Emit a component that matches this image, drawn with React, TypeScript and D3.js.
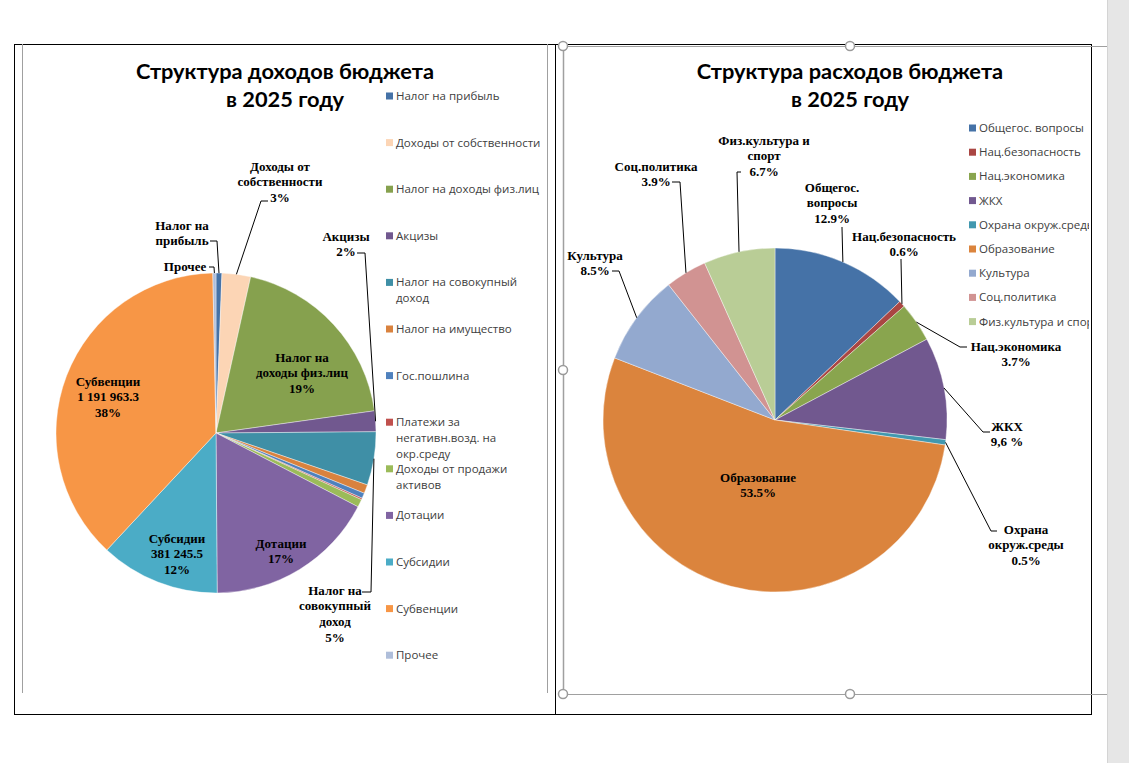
import React from 'react';
import * as d3 from 'd3';

// ---------- DATA ----------
const incomeCategories = [
  'Налог на прибыль',
  'Доходы от собственности',
  'Налог на доходы физ.лиц',
  'Акцизы',
  'Налог на совокупный доход',
  'Налог на имущество',
  'Гос.пошлина',
  'Платежи за негативн.возд. на окр.среду',
  'Доходы от продажи активов',
  'Дотации',
  'Субсидии',
  'Субвенции',
  'Прочее',
];
const incomeValues = [18800, 91000, 610000, 66000, 170000, 28000, 17000, 5000, 25000, 545000, 381245.5, 1191963.3, 10000];
const incomeColors = ['#4572A7', '#FCD5B5', '#86A14E', '#71588F', '#3F8FA6', '#D9823E', '#4F81BD', '#C0504D', '#9BBB59', '#8064A2', '#4BACC6', '#F79646', '#AFBEDA'];
const incomeLegend = [
  ['Налог на прибыль'],
  ['Доходы от собственности'],
  ['Налог на доходы физ.лиц'],
  ['Акцизы'],
  ['Налог на совокупный', 'доход'],
  ['Налог на имущество'],
  ['Гос.пошлина'],
  ['Платежи за', 'негативн.возд. на', 'окр.среду'],
  ['Доходы от продажи', 'активов'],
  ['Дотации'],
  ['Субсидии'],
  ['Субвенции'],
  ['Прочее'],
];

const expenseCategories = [
  'Общегос. вопросы',
  'Нац.безопасность',
  'Нац.экономика',
  'ЖКХ',
  'Охрана окруж.среды',
  'Образование',
  'Культура',
  'Соц.политика',
  'Физ.культура и спорт',
];
// shares in percent
const expenseValues = [12.9, 0.6, 3.7, 9.6, 0.5, 53.5, 8.5, 3.9, 6.7];
const expenseColors = ['#4572A7', '#AA4643', '#89A54E', '#71588F', '#4198AF', '#DB843D', '#93A9CF', '#D19392', '#B9CD96'];

// ---------- LAYOUT CONFIG ----------
type LabelCfg = {
  idx: number;
  lines: string[];
  showPct?: boolean;
  showValue?: boolean;
  pctText?: string;
  x: number;
  y: number; // centre of first line
  lh?: number;
  leader?: [number, number][]; // start + elbow, ends at slice edge
};

const ruLocale = d3.formatLocale({ decimal: '.', thousands: '\u00a0', grouping: [3], currency: ['', ''] });
const fmtValue = ruLocale.format(',.1f');

const incomeLabels: LabelCfg[] = [
  { idx: 0, lines: ['Налог на', 'прибыль'], x: 182, y: 225, leader: [[210, 241], [217, 241]] },
  { idx: 12, lines: ['Прочее'], x: 185, y: 266, leader: [[209, 267], [214, 267]] },
  { idx: 1, lines: ['Доходы от', 'собственности'], showPct: true, x: 280, y: 166, leader: [[268, 201], [261, 201]] },
  { idx: 3, lines: ['Акцизы'], showPct: true, x: 346, y: 236, leader: [[357, 253], [365, 253]] },
  { idx: 4, lines: ['Налог на', 'совокупный', 'доход'], showPct: true, x: 335, y: 590, leader: [[362, 592], [371, 592]] },
  { idx: 2, lines: ['Налог на', 'доходы физ.лиц'], showPct: true, x: 302, y: 357 },
  { idx: 11, lines: ['Субвенции'], showValue: true, showPct: true, x: 108, y: 381 },
  { idx: 10, lines: ['Субсидии'], showValue: true, showPct: true, x: 177, y: 538 },
  { idx: 9, lines: ['Дотации'], showPct: true, x: 281, y: 543 },
];

const expenseLabels: LabelCfg[] = [
  { idx: 8, lines: ['Физ.культура и', 'спорт'], showPct: true, x: 764, y: 140, leader: [[741, 172], [737, 172]] },
  { idx: 7, lines: ['Соц.политика'], showPct: true, x: 656, y: 166, leader: [[672, 182], [680, 182]] },
  { idx: 6, lines: ['Культура'], showPct: true, x: 595, y: 255, leader: [[612, 271], [619, 271]] },
  { idx: 0, lines: ['Общегос.', 'вопросы'], showPct: true, x: 832, y: 187, leader: [[842, 227], [842, 228]] },
  { idx: 1, lines: ['Нац.безопасность'], showPct: true, x: 904, y: 236, leader: [[901, 259], [901, 260]] },
  { idx: 2, lines: ['Нац.экономика'], showPct: true, x: 1016, y: 346, leader: [[967, 347], [960, 347]] },
  { idx: 3, lines: ['ЖКХ'], showPct: true, pctText: '9,6 %', x: 1007, y: 426, leader: [[990, 432], [983, 432]] },
  { idx: 4, lines: ['Охрана', 'окруж.среды'], showPct: true, x: 1026, y: 529, leader: [[997, 531], [991, 531]] },
  { idx: 5, lines: ['Образование'], showPct: true, x: 758, y: 477 },
];

const LABEL_FONT = '"Liberation Serif", "Times New Roman", serif';
const LEGEND_FONT = '"Open Sans", "Noto Sans", sans-serif';
const TITLE_FONT = 'Lato, "Open Sans", sans-serif';

type PieProps = {
  values: number[];
  colors: string[];
  cx: number;
  cy: number;
  r: number;
  labels: LabelCfg[];
  pctFmt: (v: number) => string;
  total?: number;
};

function Pie({ values, colors, cx, cy, r, labels, pctFmt, total }: PieProps) {
  const tot = total ?? d3.sum(values);
  const arcs = d3.pie<number>().sort(null).value((d) => d)(values);
  const arcGen = d3.arc<d3.PieArcDatum<number>>().innerRadius(0).outerRadius(r);
  return (
    <g>
      <g transform={`translate(${cx},${cy})`}>
        {arcs.map((a, i) => (
          <path key={i} d={arcGen(a) || ''} fill={colors[i]} stroke="#ffffff" strokeWidth={0.4} />
        ))}
      </g>
      {labels.map((lb, k) => {
        const a = arcs[lb.idx];
        const mid = (a.startAngle + a.endAngle) / 2;
        const ex = cx + r * Math.sin(mid);
        const ey = cy - r * Math.cos(mid);
        const lines = [...lb.lines];
        if (lb.showValue) lines.push(fmtValue(values[lb.idx]));
        if (lb.showPct) lines.push(lb.pctText ?? pctFmt(values[lb.idx] / tot));
        const lh = lb.lh ?? 15.7;
        return (
          <g key={k}>
            {lb.leader && (
              <path
                d={`M${lb.leader[0][0]},${lb.leader[0][1]} L${lb.leader[1][0]},${lb.leader[1][1]} L${ex},${ey}`}
                fill="none"
                stroke="#000"
                strokeWidth={1}
              />
            )}
            <text fontFamily={LABEL_FONT} fontWeight="bold" fontSize={13} textAnchor="middle" fill="#000">
              {lines.map((t, j) => (
                <tspan key={j} x={lb.x} y={lb.y + j * lh + 4.5}>
                  {t}
                </tspan>
              ))}
            </text>
          </g>
        );
      })}
    </g>
  );
}

function Legend({ items, colors, x, y0, step, lineStep, clipId }: { items: string[][]; colors: string[]; x: number; y0: number; step: number; lineStep: number; clipId?: string }) {
  return (
    <g clipPath={clipId ? `url(#${clipId})` : undefined}>
      {items.map((lines, i) => {
        const y = y0 + i * step;
        return (
          <g key={i}>
            <rect x={x} y={y - 3.5} width={7} height={7} fill={colors[i]} />
            <text fontFamily={LEGEND_FONT} fontSize={11.5} fill="#404040">
              {lines.map((t, j) => (
                <tspan key={j} x={x + 10} y={y + 4 + j * lineStep}>
                  {t}
                </tspan>
              ))}
            </text>
          </g>
        );
      })}
    </g>
  );
}

export default function App() {
  const pctInt = d3.format('.0%');
  const pct1 = (v: number) => d3.format('.1f')(v * 100) + '%';
  const handles: [number, number][] = [
    [563, 46],
    [850, 46],
    [563, 370],
    [563, 694],
    [850, 694],
  ];
  return (
    <svg width={1129} height={763} style={{ position: 'absolute', left: 0, top: 0, background: '#fff' }}>
      <defs>
        <clipPath id="legClip">
          <rect x={950} y={100} width={139} height={300} />
        </clipPath>
      </defs>
      <rect x={0} y={0} width={1129} height={763} fill="#fff" />
      {/* scrollbar strip */}
      <rect x={1107} y={0} width={22} height={763} fill="#e6e6e6" />
      <line x1={1107.5} y1={0} x2={1107.5} y2={763} stroke="#d4d4d4" />

      {/* frames */}
      <rect x={14.5} y={44.5} width={541} height={670} fill="none" stroke="#000" />
      <rect x={555.5} y={44.5} width={536} height={670} fill="none" stroke="#000" />
      <line x1={22.5} y1={44} x2={22.5} y2={693} stroke="#a0a0a0" />
      <line x1={547.5} y1={44} x2={547.5} y2={693} stroke="#a0a0a0" />

      {/* left chart */}
      <text fontFamily={TITLE_FONT} fontWeight="bold" fontSize={21.8} textAnchor="middle" fill="#000">
        <tspan x={285} y={79}>Структура доходов бюджета</tspan>
        <tspan x={285} y={107}>в 2025 году</tspan>
      </text>
      <Pie values={incomeValues} colors={incomeColors} cx={216} cy={433} r={160} labels={incomeLabels} pctFmt={pctInt} />
      <Legend items={incomeLegend} colors={incomeColors} x={386} y0={96} step={46.6} lineStep={16} />

      {/* right chart */}
      <text fontFamily={TITLE_FONT} fontWeight="bold" fontSize={21.8} textAnchor="middle" fill="#000">
        <tspan x={850} y={79}>Структура расходов бюджета</tspan>
        <tspan x={850} y={107}>в 2025 году</tspan>
      </text>
      <Pie values={expenseValues} colors={expenseColors} cx={775} cy={420} r={172} labels={expenseLabels} pctFmt={pct1} total={100} />
      <Legend items={expenseCategories.map((c) => [c])} colors={expenseColors} x={969} y0={128} step={24.2} lineStep={16} clipId="legClip" />

      {/* selection frame */}
      <line x1={563.5} y1={46} x2={563.5} y2={694} stroke="#a0a0a0" strokeWidth={1.5} />
      <line x1={563} y1={46.5} x2={1107} y2={46.5} stroke="#a0a0a0" />
      <line x1={563} y1={694.5} x2={1107} y2={694.5} stroke="#a0a0a0" />
      {handles.map(([hx, hy], i) => (
        <circle key={i} cx={hx} cy={hy} r={4.5} fill="#fff" stroke="#9a9a9a" strokeWidth={1.5} />
      ))}
    </svg>
  );
}
